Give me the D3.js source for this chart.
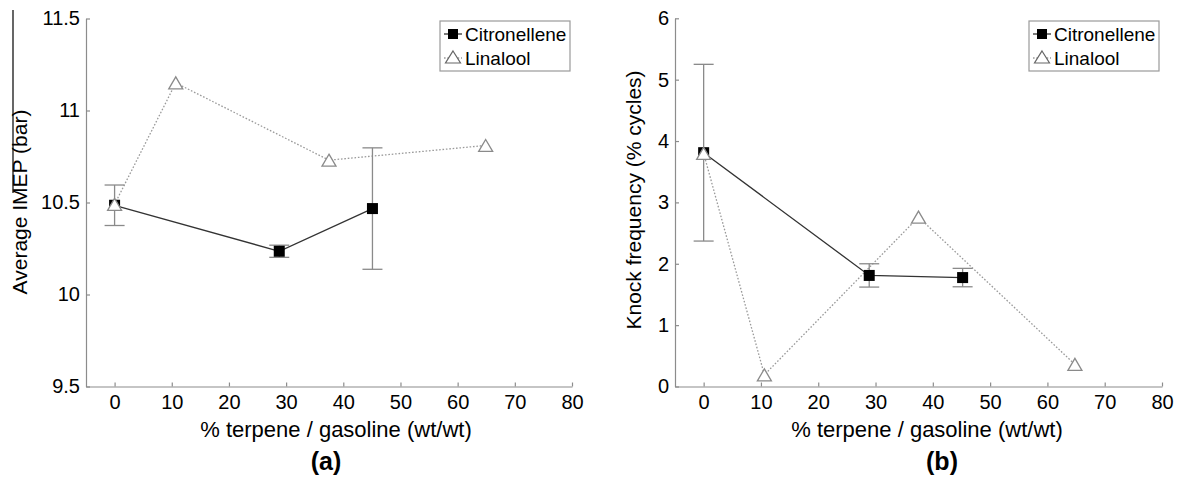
<!DOCTYPE html>
<html>
<head>
<meta charset="utf-8">
<script src="https://cdn.jsdelivr.net/npm/d3@7"></script>
<style>
  html, body { margin: 0; padding: 0; background: #fff; }
  svg { display: block; }
  text { font-family: Arial, "Liberation Sans", Helvetica, sans-serif; fill: #000; }
</style>
</head>
<body>
<svg id="chart" width="1180" height="485"></svg>
<script>
// ---------- data ----------
const seriesNames = ["Citronellene", "Linalool"];
const xTicks = [0, 10, 20, 30, 40, 50, 60, 70, 80];

// Panel (a): Average IMEP (bar)
const imepTicks = [9.5, 10, 10.5, 11, 11.5];
const citX_a = [0, 28.8, 45.1];
const citImep = [10.485, 10.235, 10.467];
const citImepErr = [0.11, 0.033, 0.33];
const linX_a = [0, 10.7, 37.5, 64.9];
const linImep = [10.49, 11.15, 10.73, 10.81];

// Panel (b): Knock frequency (% cycles)
const knockTicks = [0, 1, 2, 3, 4, 5, 6];
const citX_b = [0, 28.9, 45.2];
const citKnock = [3.81, 1.81, 1.775];
const citKnockErr = [1.44, 0.19, 0.15];
const linX_b = [0, 10.6, 37.5, 64.8];
const linKnock = [3.80, 0.19, 2.76, 0.36];

// ---------- drawing ----------
const svg = d3.select("#chart");
const AXIS = "#8c8c8c";
const CIT_LINE = "#333";
const LIN_LINE = "#9a9a9a";
const ERR = "#8a8a8a";

function trianglePath(w, h) {
  return `M0,${-h/2}L${w/2},${h/2}L${-w/2},${h/2}Z`;
}

function panel(opts) {
  const g = svg.append("g");
  const x = d3.scaleLinear().domain([-5, 80]).range([opts.left, opts.right]);
  const y = d3.scaleLinear().domain(opts.yDomain).range([opts.bottom, opts.top]);

  // axes
  const xa = g.append("g").attr("transform", `translate(0,${opts.bottom})`)
    .call(d3.axisBottom(x).tickValues(xTicks).tickFormat(d3.format("d"))
      .tickSizeInner(-4).tickSizeOuter(0).tickPadding(8));
  const ya = g.append("g").attr("transform", `translate(${opts.left},0)`)
    .call(d3.axisLeft(y).tickValues(opts.yTicks).tickFormat(opts.yFormat)
      .tickSizeInner(-4).tickSizeOuter(0).tickPadding(6));
  [xa, ya].forEach(a => {
    a.select(".domain").attr("stroke", AXIS).attr("stroke-width", 1.2);
    a.selectAll(".tick line").attr("stroke", AXIS).attr("stroke-width", 1.2);
    a.selectAll(".tick text").attr("fill", "#000").style("font-size", "20px")
      .style("font-family", 'Arial, "Liberation Sans", Helvetica, sans-serif');
  });

  // linalool dotted line
  const linPts = opts.linX.map((d, i) => [x(d), y(opts.linY[i])]);
  g.append("path").attr("d", d3.line()(linPts))
    .attr("fill", "none").attr("stroke", LIN_LINE).attr("stroke-width", 1.3)
    .attr("stroke-dasharray", "1.6,1.8");

  // citronellene line
  const citPts = opts.citX.map((d, i) => [x(d), y(opts.citY[i])]);
  g.append("path").attr("d", d3.line()(citPts))
    .attr("fill", "none").attr("stroke", CIT_LINE).attr("stroke-width", 1.3);

  // error bars
  const eb = g.append("g");
  opts.citX.forEach((d, i) => {
    const cx = x(d), y1 = y(opts.citY[i] + opts.citErr[i]), y2 = y(opts.citY[i] - opts.citErr[i]);
    eb.append("line").attr("x1", cx).attr("x2", cx).attr("y1", y1).attr("y2", y2);
    eb.append("line").attr("x1", cx - 10).attr("x2", cx + 10).attr("y1", y1).attr("y2", y1);
    eb.append("line").attr("x1", cx - 10).attr("x2", cx + 10).attr("y1", y2).attr("y2", y2);
  });
  eb.selectAll("line").attr("stroke", ERR).attr("stroke-width", 1.3);

  // citronellene squares
  g.selectAll(".sq").data(opts.citX).enter().append("rect")
    .attr("x", (d) => x(d) - 5.5).attr("y", (d, i) => y(opts.citY[i]) - 5.5)
    .attr("width", 11).attr("height", 11).attr("fill", "#000");

  // linalool triangles
  g.selectAll(".tri").data(opts.linX).enter().append("path")
    .attr("d", trianglePath(14, 12))
    .attr("transform", (d, i) => `translate(${x(d)},${y(opts.linY[i])})`)
    .attr("fill", "#fff").attr("stroke", "#8a8a8a").attr("stroke-width", 1.3);

  // legend
  const L = g.append("g").attr("transform", `translate(${opts.legendX},21)`);
  L.append("rect").attr("width", 130).attr("height", 50)
    .attr("fill", "#fff").attr("stroke", "#9a9a9a").attr("stroke-width", 1.2);
  L.append("line").attr("x1", 4).attr("x2", 22).attr("y1", 13).attr("y2", 13)
    .attr("stroke", CIT_LINE).attr("stroke-width", 1.3);
  L.append("rect").attr("x", 8).attr("y", 8).attr("width", 10).attr("height", 10).attr("fill", "#000");
  L.append("line").attr("x1", 4).attr("x2", 22).attr("y1", 37).attr("y2", 37)
    .attr("stroke", LIN_LINE).attr("stroke-width", 1.3).attr("stroke-dasharray", "1.6,1.8");
  L.append("path").attr("d", trianglePath(15, 12)).attr("transform", "translate(13,36)")
    .attr("fill", "#fff").attr("stroke", "#666").attr("stroke-width", 1.2);
  L.append("text").attr("x", 25).attr("y", 20).style("font-size", "19px").text(seriesNames[0]);
  L.append("text").attr("x", 25).attr("y", 44).style("font-size", "19px").text(seriesNames[1]);

  // axis titles
  g.append("text").attr("x", opts.xTitleX).attr("y", 437).attr("text-anchor", "middle")
    .style("font-size", "22px").text("% terpene / gasoline (wt/wt)");
  g.append("text").attr("transform", `translate(${opts.yTitleX},${opts.yTitleY}) rotate(-90)`)
    .attr("text-anchor", "middle").style("font-size", "21px").text(opts.yTitle);
  g.append("text").attr("x", opts.panelLabelX).attr("y", 470).attr("text-anchor", "middle")
    .style("font-size", "25px").style("font-weight", "bold").text(opts.panelLabel);
  return g;
}

panel({
  left: 86, right: 572, top: 18.5, bottom: 386.5,
  yDomain: [9.5, 11.5], yTicks: imepTicks, yFormat: d3.format(""),
  citX: citX_a, citY: citImep, citErr: citImepErr,
  linX: linX_a, linY: linImep,
  legendX: 440, xTitleX: 336, yTitleX: 27, yTitleY: 202,
  yTitle: "Average IMEP (bar)", panelLabel: "(a)", panelLabelX: 326
});
panel({
  left: 675, right: 1162, top: 18.3, bottom: 386.5,
  yDomain: [0, 6], yTicks: knockTicks, yFormat: d3.format("d"),
  citX: citX_b, citY: citKnock, citErr: citKnockErr,
  linX: linX_b, linY: linKnock,
  legendX: 1029, xTitleX: 927, yTitleX: 641, yTitleY: 200,
  yTitle: "Knock frequency (% cycles)", panelLabel: "(b)", panelLabelX: 942
});

// stray overline beside the left y-axis title (present in the source figure)
svg.append("line").attr("x1", 13).attr("x2", 13).attr("y1", 10).attr("y2", 193)
  .attr("stroke", "#000").attr("stroke-width", 1.2);
</script>
</body>
</html>
